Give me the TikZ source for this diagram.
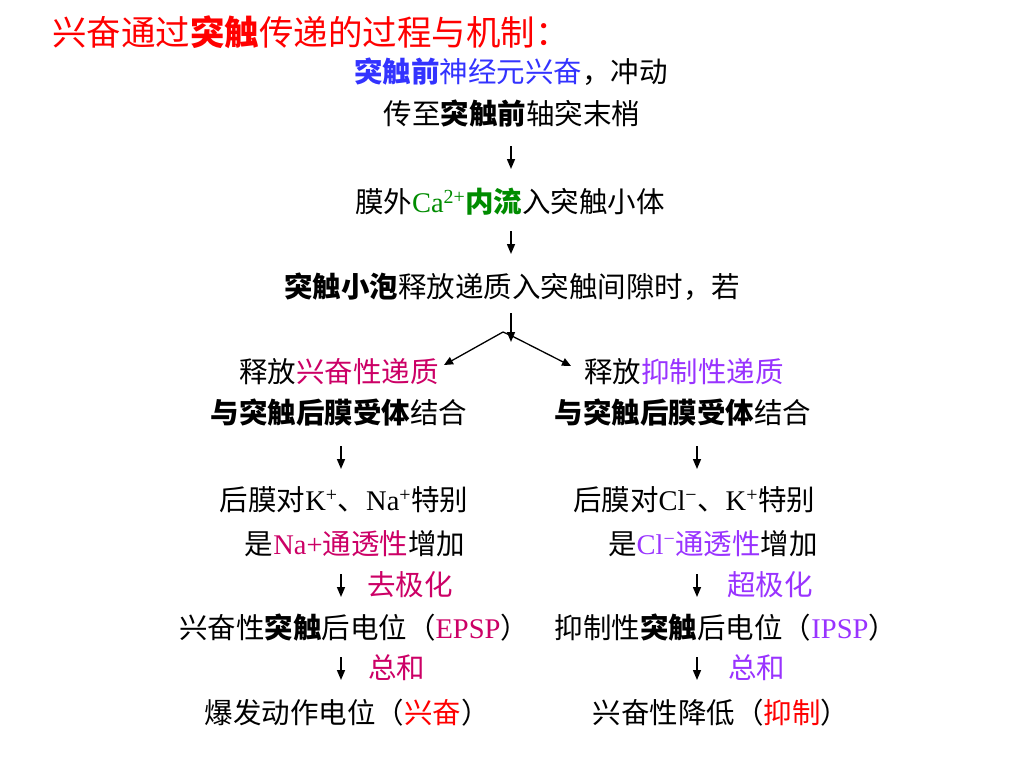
\documentclass[tikz,border=0pt]{standalone}
\usepackage{fontspec}
\setmainfont{Noto Sans CJK SC}
\newfontfamily\lat{Liberation Serif}
\usetikzlibrary{arrows.meta}
\definecolor{tred}{RGB}{255,0,0}
\definecolor{tblue}{RGB}{51,51,255}
\definecolor{tgreen}{RGB}{0,140,0}
\definecolor{tmag}{RGB}{204,0,102}
\definecolor{tpurp}{RGB}{153,51,255}
\tikzset{
  txt/.style={inner sep=0pt, font=\fontsize{28.5}{31}\selectfont},
  arr/.style={line width=1.3pt, -{Triangle[length=9pt,width=8pt]}},
  darr/.style={line width=1.5pt, -{Triangle[length=10pt,width=8pt]}}
}
\begin{document}
\begin{tikzpicture}[x=1pt,y=-1pt]
\useasboundingbox[fill=white] (0,0) rectangle (1024,768);
\node[txt, anchor=west, font=\fontsize{34.5}{37}\selectfont, text=tred] (title) at (52,32) {兴奋通过\textbf{突触}传递的过程与机制：};

\node[txt] (n1) at (511,72) {\textcolor{tblue}{\textbf{突触前}神经元兴奋}，冲动};
\node[txt] (n2) at (512,114) {传至\textbf{突触前}轴突末梢};
\node[txt] (n3) at (510,202) {膜外\textcolor{tgreen}{{\lat Ca\textsuperscript{2+}}\textbf{内流}}入突触小体};
\node[txt] (n4) at (512,287) {\textbf{突触小泡}释放递质入突触间隙时，若};

\node[txt] (n5L) at (339,372) {释放\textcolor{tmag}{兴奋性递质}};
\node[txt] (n5R) at (684,372) {释放\textcolor{tpurp}{抑制性递质}};
\node[txt] (n6L) at (339,413) {\textbf{与突触后膜受体}结合};
\node[txt] (n6R) at (683,413) {\textbf{与突触后膜受体}结合};

\node[txt] (n7L) at (344,500) {后膜对{\lat K\textsuperscript{+}}、{\lat Na\textsuperscript{+}}特别};
\node[txt] (n7R) at (694,500) {后膜对{\lat Cl\textsuperscript{−}}、{\lat K\textsuperscript{+}}特别};
\node[txt] (n8L) at (355,544) {是\textcolor{tmag}{{\lat Na+}通透性}增加};
\node[txt] (n8R) at (713,544) {是\textcolor{tpurp}{{\lat Cl\textsuperscript{−}}通透性}增加};

\node[txt, anchor=west, text=tmag] (l1L) at (367,585) {去极化};
\node[txt, anchor=west, text=tpurp] (l1R) at (727,585) {超极化};

\node[txt] (n9L) at (354,628) {兴奋性\textbf{突触}后电位（\textcolor{tmag}{\lat EPSP}）};
\node[txt] (n9R) at (726,628) {抑制性\textbf{突触}后电位（\textcolor{tpurp}{\lat IPSP}）};

\node[txt, anchor=west, text=tmag] (l2L) at (368,668) {总和};
\node[txt, anchor=west, text=tpurp] (l2R) at (728,668) {总和};

\node[txt] (n10L) at (347,713) {爆发动作电位（\textcolor{tred}{兴奋}）};
\node[txt] (n10R) at (721,713) {兴奋性降低（\textcolor{tred}{抑制}）};

% arrow coordinates
\coordinate (a1s) at (511,146); \coordinate (a1e) at (511,169);
\coordinate (a2s) at (511,231); \coordinate (a2e) at (511,254);
\coordinate (a3s) at (511,313); \coordinate (a3e) at (511,342);
\coordinate (bLs) at (503,332); \coordinate (bLe) at (444,365);
\coordinate (bRs) at (512,336); \coordinate (bRe) at (571,366);
\coordinate (c1Ls) at (341,446); \coordinate (c1Le) at (341,469);
\coordinate (c1Rs) at (697,446); \coordinate (c1Re) at (697,469);
\coordinate (c2Ls) at (341,574); \coordinate (c2Le) at (341,597);
\coordinate (c2Rs) at (697,574); \coordinate (c2Re) at (697,597);
\coordinate (c3Ls) at (341,657); \coordinate (c3Le) at (341,680);
\coordinate (c3Rs) at (697,657); \coordinate (c3Re) at (697,680);

\draw[darr] (a1s) -- (a1e);
\draw[darr] (a2s) -- (a2e);
\draw[darr] (a3s) -- (a3e);
\draw[arr] (bLs) -- (bLe);
\draw[arr] (bLs) -- (bRs) -- (bRe);
\draw[darr] (c1Ls) -- (c1Le);
\draw[darr] (c1Rs) -- (c1Re);
\draw[darr] (c2Ls) -- (c2Le);
\draw[darr] (c2Rs) -- (c2Re);
\draw[darr] (c3Ls) -- (c3Le);
\draw[darr] (c3Rs) -- (c3Re);
\end{tikzpicture}
\end{document}
